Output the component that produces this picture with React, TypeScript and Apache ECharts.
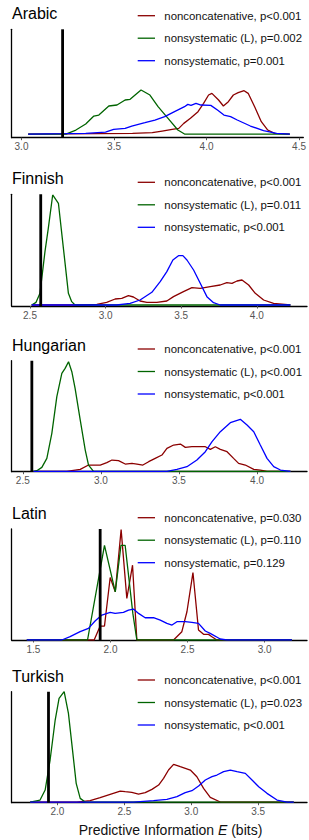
import React, { useEffect, useRef } from "react";
import * as echarts from "echarts";

// ---------- data (x = predictive information, y = density, arbitrary units) ----------
const seriesNames = ["nonconcatenative", "nonsystematic (L)", "nonsystematic"];

// Arabic
const arabicLegend = ["nonconcatenative, p<0.001", "nonsystematic (L), p=0.002", "nonsystematic, p=0.001"];
const arabicTicks = [3.0, 3.5, 4.0, 4.5];
const arabicObserved = 3.222;
const arabicNoncat: number[][] = [
  [3.036, 0], [3.6, 2], [3.707, 4], [3.76, 9], [3.814, 14], [3.85, 17], [3.877, 32], [3.913, 47],
  [3.954, 67], [3.984, 92], [4.011, 117], [4.029, 122], [4.065, 102], [4.091, 84], [4.118, 97],
  [4.145, 117], [4.171, 124], [4.203, 130], [4.225, 122], [4.26, 82], [4.296, 37], [4.331, 12],
  [4.367, 2], [4.45, 0],
];
const arabicNonsysL: number[][] = [
  [3.036, 0], [3.24, 0], [3.294, 12], [3.347, 30], [3.391, 54], [3.418, 57], [3.472, 84], [3.516, 87],
  [3.56, 102], [3.587, 104], [3.614, 117], [3.646, 132], [3.694, 117], [3.738, 82], [3.792, 47],
  [3.845, 12], [3.881, 0], [4.45, 0],
];
const arabicNonsys: number[][] = [
  [3.036, 0], [3.24, 1], [3.347, 2], [3.454, 6], [3.498, 14], [3.56, 17], [3.596, 24], [3.667, 34],
  [3.721, 42], [3.774, 52], [3.827, 67], [3.881, 82], [3.899, 89], [3.916, 86], [3.943, 92],
  [3.97, 87], [4.023, 86], [4.059, 72], [4.094, 57], [4.13, 52], [4.166, 42], [4.237, 24],
  [4.308, 10], [4.379, 2], [4.45, 0],
];

// Finnish
const finnishLegend = ["nonconcatenative, p<0.001", "nonsystematic (L), p=0.011", "nonsystematic, p<0.001"];
const finnishTicks = [2.5, 3.0, 3.5, 4.0];
const finnishObserved = 2.571;
const finnishNoncat: number[][] = [
  [2.511, 0], [2.853, 0], [2.942, 2], [3.007, 8], [3.063, 18], [3.107, 20], [3.151, 28], [3.184, 24],
  [3.228, 12], [3.273, 8], [3.339, 8], [3.405, 12], [3.449, 25], [3.515, 40], [3.571, 52],
  [3.626, 50], [3.692, 55], [3.758, 60], [3.802, 67], [3.836, 65], [3.869, 72], [3.902, 75],
  [3.946, 60], [3.99, 35], [4.045, 15], [4.111, 5], [4.222, 0],
];
const finnishNonsysL: number[][] = [
  [2.511, 0], [2.54, 8], [2.566, 35], [2.599, 160], [2.621, 230], [2.65, 330], [2.688, 305],
  [2.721, 170], [2.754, 35], [2.776, 10], [2.798, 0], [4.222, 0],
];
const finnishNonsys: number[][] = [
  [2.511, 0], [3.074, 0], [3.162, 5], [3.228, 15], [3.306, 38], [3.361, 70], [3.405, 100],
  [3.445, 135], [3.482, 148], [3.511, 148], [3.538, 135], [3.582, 105], [3.626, 65], [3.67, 25],
  [3.714, 7], [3.758, 0], [4.222, 0],
];

// Hungarian
const hungarianLegend = ["nonconcatenative, p<0.001", "nonsystematic (L), p<0.001", "nonsystematic, p<0.001"];
const hungarianTicks = [2.5, 3.0, 3.5, 4.0];
const hungarianObserved = 2.558;
const hungarianNoncat: number[][] = [
  [2.568, 0], [2.782, 0], [2.868, 6], [2.921, 19], [2.996, 19], [3.038, 26], [3.071, 34], [3.113, 32],
  [3.156, 22], [3.199, 24], [3.231, 22], [3.269, 19], [3.306, 29], [3.348, 39], [3.391, 49],
  [3.423, 69], [3.466, 79], [3.509, 82], [3.541, 72], [3.583, 74], [3.637, 74], [3.669, 74],
  [3.701, 66], [3.733, 74], [3.765, 66], [3.808, 59], [3.85, 39], [3.882, 24], [3.925, 19],
  [3.979, 6], [4.021, 4], [4.064, 0], [4.214, 0],
];
const hungarianNonsysL: number[][] = [
  [2.568, 0], [2.59, 2], [2.622, 12], [2.654, 39], [2.686, 114], [2.718, 224], [2.75, 294],
  [2.771, 309], [2.793, 329], [2.814, 299], [2.835, 249], [2.868, 154], [2.9, 64], [2.921, 19],
  [2.953, 0], [4.214, 0],
];
const hungarianNonsys: number[][] = [
  [2.568, 0], [3.423, 0], [3.487, 6], [3.551, 14], [3.615, 34], [3.669, 59], [3.712, 89],
  [3.765, 119], [3.829, 146], [3.893, 156], [3.936, 139], [3.979, 119], [4.021, 79], [4.064, 39],
  [4.107, 14], [4.15, 4], [4.214, 0],
];

// Latin
const latinLegend = ["nonconcatenative, p=0.030", "nonsystematic (L), p=0.110", "nonsystematic, p=0.129"];
const latinTicks = [1.5, 2.0, 2.5, 3.0];
const latinObserved = 1.933;
const latinNoncat: number[][] = [
  [1.457, 0], [1.894, 0], [1.933, 42], [1.961, 42], [1.998, 188], [2.031, 145], [2.069, 332],
  [2.106, 125], [2.143, 225], [2.171, 0], [2.409, 0], [2.463, 25], [2.496, 85], [2.535, 203],
  [2.571, 30], [2.604, 17], [2.636, 17], [2.658, 10], [2.69, 0], [3.177, 0],
];
const latinNonsysL: number[][] = [
  [1.457, 0], [1.851, 0], [1.961, 285], [2.031, 145], [2.068, 285], [2.095, 285], [2.145, 80],
  [2.171, 0], [3.177, 0],
];
const latinNonsys: number[][] = [
  [1.457, 0], [1.684, 0], [1.738, 10], [1.803, 25], [1.857, 35], [1.9, 57], [1.944, 75], [1.998, 83],
  [2.03, 80], [2.084, 83], [2.117, 90], [2.149, 93], [2.182, 80], [2.225, 67], [2.279, 67],
  [2.323, 60], [2.366, 50], [2.399, 45], [2.431, 55], [2.485, 55], [2.528, 53], [2.571, 50],
  [2.615, 27], [2.647, 20], [2.712, 3], [2.755, 0], [3.177, 0],
];

// Turkish
const turkishLegend = ["nonconcatenative, p<0.001", "nonsystematic (L), p=0.023", "nonsystematic, p<0.001"];
const turkishTicks = [2.0, 2.5, 3.0, 3.5];
const turkishObserved = 1.933;
const turkishNoncat: number[][] = [
  [1.796, 0], [2.145, 0], [2.244, 4], [2.319, 13], [2.394, 23], [2.469, 33], [2.506, 31], [2.556, 29],
  [2.606, 24], [2.656, 28], [2.706, 38], [2.756, 51], [2.793, 71], [2.83, 96], [2.868, 113],
  [2.918, 106], [2.993, 96], [3.042, 76], [3.092, 41], [3.142, 14], [3.217, 0], [3.766, 0],
];
const turkishNonsysL: number[][] = [
  [1.796, 0], [1.87, 6], [1.908, 36], [1.945, 126], [1.983, 246], [2.012, 311], [2.05, 331],
  [2.082, 266], [2.107, 176], [2.14, 56], [2.17, 11], [2.207, 0], [3.766, 0],
];
const turkishNonsys: number[][] = [
  [1.796, 0], [2.569, 0], [2.718, 4], [2.818, 8], [2.893, 16], [2.955, 28], [3.005, 34], [3.055, 48],
  [3.105, 66], [3.155, 76], [3.192, 81], [3.242, 91], [3.292, 96], [3.342, 91], [3.404, 86],
  [3.454, 66], [3.504, 46], [3.566, 26], [3.641, 6], [3.716, 0], [3.766, 0],
];

const xAxisTitle = ["Predictive Information ", "E", " (bits)"];

// ---------- layout & style ----------
const COLORS = ["#8B0000", "#006400", "#0000FF"];
const FONT = "'Liberation Sans', Arial, Helvetica, sans-serif";

const panels = [
  { title: "Arabic", legend: arabicLegend, ticks: arabicTicks, observed: arabicObserved,
    curves: [arabicNoncat, arabicNonsysL, arabicNonsys],
    xMin: 2.947, xMax: 4.523, yMin: -11, yMax: 314, top: 29.3, bottom: 137.7, titleY: 13.5, legendY: 15.7 },
  { title: "Finnish", legend: finnishLegend, ticks: finnishTicks, observed: finnishObserved,
    curves: [finnishNoncat, finnishNonsysL, finnishNonsys],
    xMin: 2.379, xMax: 4.332, yMin: -3, yMax: 332, top: 194.3, bottom: 306, titleY: 178.5, legendY: 182.3 },
  { title: "Hungarian", legend: hungarianLegend, ticks: hungarianTicks, observed: hungarianObserved,
    curves: [hungarianNoncat, hungarianNonsysL, hungarianNonsys],
    xMin: 2.429, xMax: 4.32, yMin: -1, yMax: 332, top: 360.7, bottom: 471.7, titleY: 345, legendY: 349 },
  { title: "Latin", legend: latinLegend, ticks: latinTicks, observed: latinObserved,
    curves: [latinNoncat, latinNonsysL, latinNonsys],
    xMin: 1.359, xMax: 3.275, yMin: 0, yMax: 334, top: 529, bottom: 640, titleY: 513.5, legendY: 517.7 },
  { title: "Turkish", legend: turkishLegend, ticks: turkishTicks, observed: turkishObserved,
    curves: [turkishNoncat, turkishNonsysL, turkishNonsys],
    xMin: 1.658, xMax: 3.865, yMin: -2, yMax: 331, top: 691.7, bottom: 802.7, titleY: 676, legendY: 680 },
];

const W = 309;
const H = 840;
const AXIS_LEFT = 11.7;
const AXIS_RIGHT = 307;
const LEGEND_GAP = 22.5;

function buildOption(): echarts.EChartsCoreOption {
  const grid: any[] = [];
  const xAxis: any[] = [];
  const yAxis: any[] = [];
  const series: any[] = [];
  const graphic: any[] = [];

  panels.forEach((p, i) => {
    grid.push({ left: AXIS_LEFT, width: AXIS_RIGHT - AXIS_LEFT, top: p.top, height: p.bottom - p.top, containLabel: false });
    xAxis.push({
      type: "value", gridIndex: i, min: p.xMin, max: p.xMax,
      axisLine: { show: true, onZero: false, lineStyle: { color: "#000", width: 1.3 } },
      axisTick: { show: true, length: 2.5, customValues: p.ticks, lineStyle: { color: "#555", width: 1 } },
      axisLabel: { show: true, customValues: p.ticks, margin: 4, fontSize: 10, color: "#555", fontFamily: FONT,
        formatter: (v: number) => v.toFixed(1), showMinLabel: true, showMaxLabel: true, hideOverlap: false },
      splitLine: { show: false },
    });
    yAxis.push({
      type: "value", gridIndex: i, min: p.yMin, max: p.yMax,
      axisLine: { show: true, lineStyle: { color: "#000", width: 1.3 } },
      axisTick: { show: false }, axisLabel: { show: false }, splitLine: { show: false },
    });
    p.curves.forEach((data, k) => {
      series.push({
        type: "line", name: seriesNames[k], xAxisIndex: i, yAxisIndex: i, data,
        symbol: "none", smooth: false, lineStyle: { color: COLORS[k], width: 1.3 }, z: 2 + k,
      });
    });
    series.push({
      type: "line", name: "observed", xAxisIndex: i, yAxisIndex: i,
      data: [[p.observed, p.yMin], [p.observed, p.yMax]],
      symbol: "none", lineStyle: { color: "#000", width: 2.8 }, z: 6,
    });

    graphic.push({
      type: "text", left: 12, top: p.titleY - 8,
      style: { text: p.title, fontSize: 16, fontWeight: "normal", fontFamily: FONT, fill: "#000" },
    });
    p.legend.forEach((label, k) => {
      const y = p.legendY + k * LEGEND_GAP;
      graphic.push({
        type: "line", shape: { x1: 137.7, y1: y, x2: 155, y2: y },
        style: { stroke: COLORS[k], lineWidth: 1.3 },
      });
      graphic.push({
        type: "text", x: 164.3, y,
        style: { text: label, fontSize: 11.4, fontWeight: "normal", fontFamily: FONT, fill: "#111", verticalAlign: "middle", textAlign: "left" },
      });
    });
  });

  graphic.push({
    type: "text", x: 170.5, y: 830,
    style: {
      text: `{a|${xAxisTitle[0]}}{i|${xAxisTitle[1]}}{a|${xAxisTitle[2]}}`,
      rich: {
        a: { fontSize: 14, fontFamily: FONT, fontWeight: "normal", fill: "#111" },
        i: { fontSize: 14, fontFamily: FONT, fontWeight: "normal", fontStyle: "italic", fill: "#111" },
      },
      textAlign: "center", verticalAlign: "middle",
    },
  });

  return { animation: false, backgroundColor: "#fff", grid, xAxis, yAxis, series, graphic };
}

export default function App() {
  const ref = useRef<HTMLDivElement>(null);
  useEffect(() => {
    if (!ref.current) return;
    const chart = echarts.init(ref.current, null, { renderer: "svg" });
    chart.setOption(buildOption());
    return () => chart.dispose();
  }, []);
  return (
    <div
      ref={ref}
      style={{ position: "absolute", left: 0, top: 0, width: W, height: H, background: "#fff" }}
    />
  );
}
